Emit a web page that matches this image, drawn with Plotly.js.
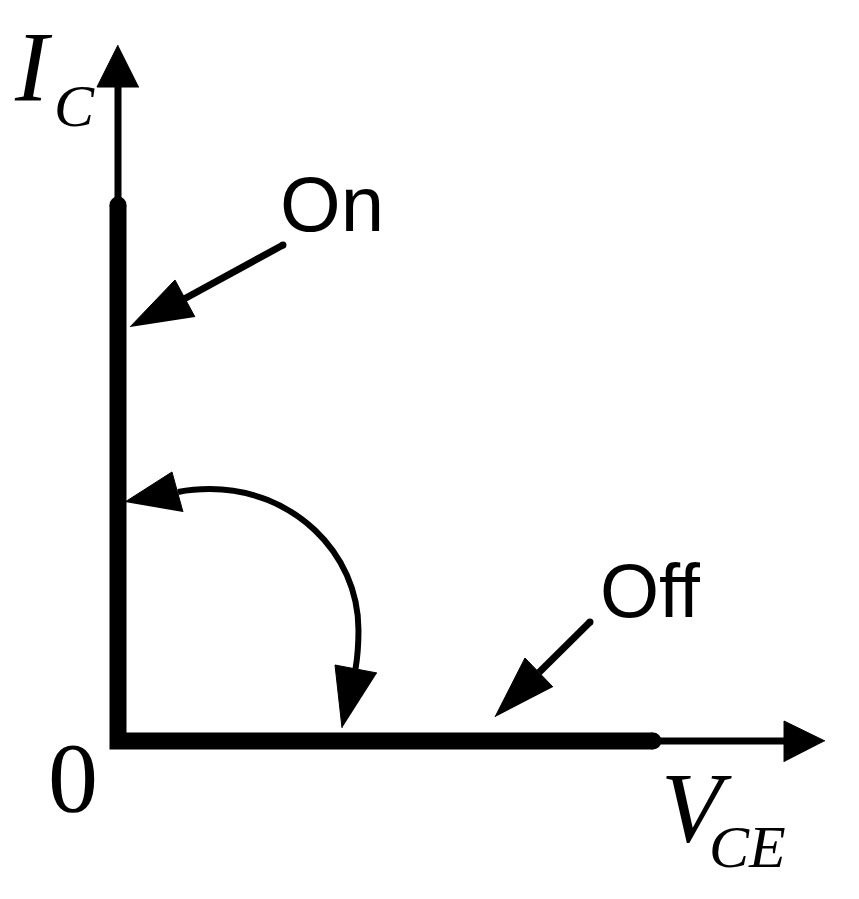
<!DOCTYPE html>
<html>
<head>
<meta charset="utf-8">
<script src="https://cdn.plot.ly/plotly-3.0.1.min.js"></script>
<style>html,body{margin:0;padding:0;background:#fff;}#chart{width:859px;height:899px;}</style>
</head>
<body>
<div id="chart"></div>
<script>
// Ideal switch characteristic (normalised units: V_CE off-state = 1, I_C on-state = 1)
const charV = [0, 0, 1];          // on-state branch (V=0), then off-state branch (I=0)
const charI = [1, 0, 0];

// axis arrows
const axisVx = [0, 0];      const axisVy = [0, 1.23];
const axisHx = [0, 1.25];   const axisHy = [0, 0];
const axisHeadVx = [0, -0.0393, 0.0393];   const axisHeadVy = [1.2985, 1.2201, 1.2201];
const axisHeadHx = [1.3215, 1.2449, 1.2449]; const axisHeadHy = [0, 0.0373, -0.0392];

// "On" pointer
const onArrowV = [0.3084, 0.1252];          const onArrowI = [0.9254, 0.8256];
const onHeadV  = [0.0224, 0.1065, 0.1439];  const onHeadI  = [0.7724, 0.8601, 0.7910];
// "Off" pointer
const offArrowV = [0.8822, 0.7869];         const offArrowI = [0.2220, 0.1278];
const offHeadV  = [0.7047, 0.7607, 0.8131]; const offHeadI  = [0.0448, 0.1549, 0.1007];

// switching transition arc: start point then three cubic Bezier segments (c1, c2, end)
const transV = [0.1121, 0.1308, 0.1514, 0.1720, 0.3252, 0.4495, 0.4495, 0.4495, 0.4477, 0.4439];
const transI = [0.4646, 0.4683, 0.4701, 0.4701, 0.4701, 0.3526, 0.2071, 0.1791, 0.1567, 0.1343];
const turnOnHeadV  = [0.0131, 0.1009, 0.1215]; const turnOnHeadI  = [0.4459, 0.5019, 0.4272];
const turnOffHeadV = [0.4187, 0.4056, 0.4841]; const turnOffHeadI = [0.0243, 0.1418, 0.1269];

// labels
const labelText = ['On', 'Off', '0'];
const labelV = [0.3991, 0.9944, -0.0850];
const labelI = [1.0019, 0.2808, -0.0672];

const K = '#000000';
function line(x, y, w, capSize) {
  const t = {x: x, y: y, type: 'scatter', mode: 'lines', line: {color: K, width: w}, hoverinfo: 'skip'};
  if (capSize) {
    t.mode = 'lines+markers';
    t.marker = {color: K, size: capSize, opacity: 1, line: {width: 0}};
  }
  return t;
}
function head(x, y) {
  return {x: x, y: y, type: 'scatter', mode: 'lines', fill: 'toself', fillcolor: K,
          line: {color: K, width: 1}, hoverinfo: 'skip'};
}

const traces = [
  line(axisVx, axisVy, 7),
  line(axisHx, axisHy, 7),
  head(axisHeadVx, axisHeadVy),
  head(axisHeadHx, axisHeadHy),
  line(charV, charI, 17, [17, 0, 17]),
  line(onArrowV, onArrowI, 7, [7, 0]),
  head(onHeadV, onHeadI),
  line(offArrowV, offArrowI, 7, [7, 0]),
  head(offHeadV, offHeadI),
  head(turnOnHeadV, turnOnHeadI),
  head(turnOffHeadV, turnOffHeadI)
];

// Bezier path for the transition arc, built from the node arrays
let arcPath = 'M' + transV[0] + ',' + transI[0];
for (let k = 1; k < transV.length; k += 3) {
  arcPath += ' C' + [0, 1, 2].map(j => transV[k + j] + ',' + transI[k + j]).join(' ');
}
const shapes = [{type: 'path', xref: 'x', yref: 'y', path: arcPath, line: {color: K, width: 6}, layer: 'below'}];

const serif = "'Liberation Serif', 'Times New Roman', serif";
const sans = "'Liberation Sans', Arial, sans-serif";
const annotations = [
  {text: labelText[0], x: labelV[0], y: labelI[0], font: {family: sans, size: 78, color: K}},
  {text: labelText[1], x: labelV[1], y: labelI[1], font: {family: sans, size: 76, color: K}},
  {text: labelText[2], x: labelV[2], y: labelI[2], font: {family: serif, size: 100, color: K}},
  {text: '<i>I</i>', x: -0.1579, y: 1.2584, font: {family: serif, size: 100, color: K}},
  {text: '<i>C</i>', x: -0.0822, y: 1.1847, font: {family: serif, size: 60, color: K}},
  {text: '<i>V</i>', x: 1.0822, y: -0.1241, font: {family: serif, size: 100, color: K}},
  {text: '<i>CE</i>', x: 1.1757, y: -0.1978, font: {family: serif, size: 60, color: K}}
].map(a => Object.assign({xref: 'x', yref: 'y', showarrow: false, xanchor: 'center', yanchor: 'middle', borderpad: 0}, a));

const layout = {
  width: 859, height: 899,
  margin: {l: 0, r: 0, t: 0, b: 0, pad: 0},
  paper_bgcolor: '#ffffff', plot_bgcolor: '#ffffff',
  showlegend: false,
  xaxis: {range: [-0.220561, 1.385047], visible: false, fixedrange: true},
  yaxis: {range: [-0.294776, 1.382463], visible: false, fixedrange: true},
  shapes: shapes,
  annotations: annotations
};

Plotly.newPlot('chart', traces, layout, {displayModeBar: false, staticPlot: true});
</script>
</body>
</html>
